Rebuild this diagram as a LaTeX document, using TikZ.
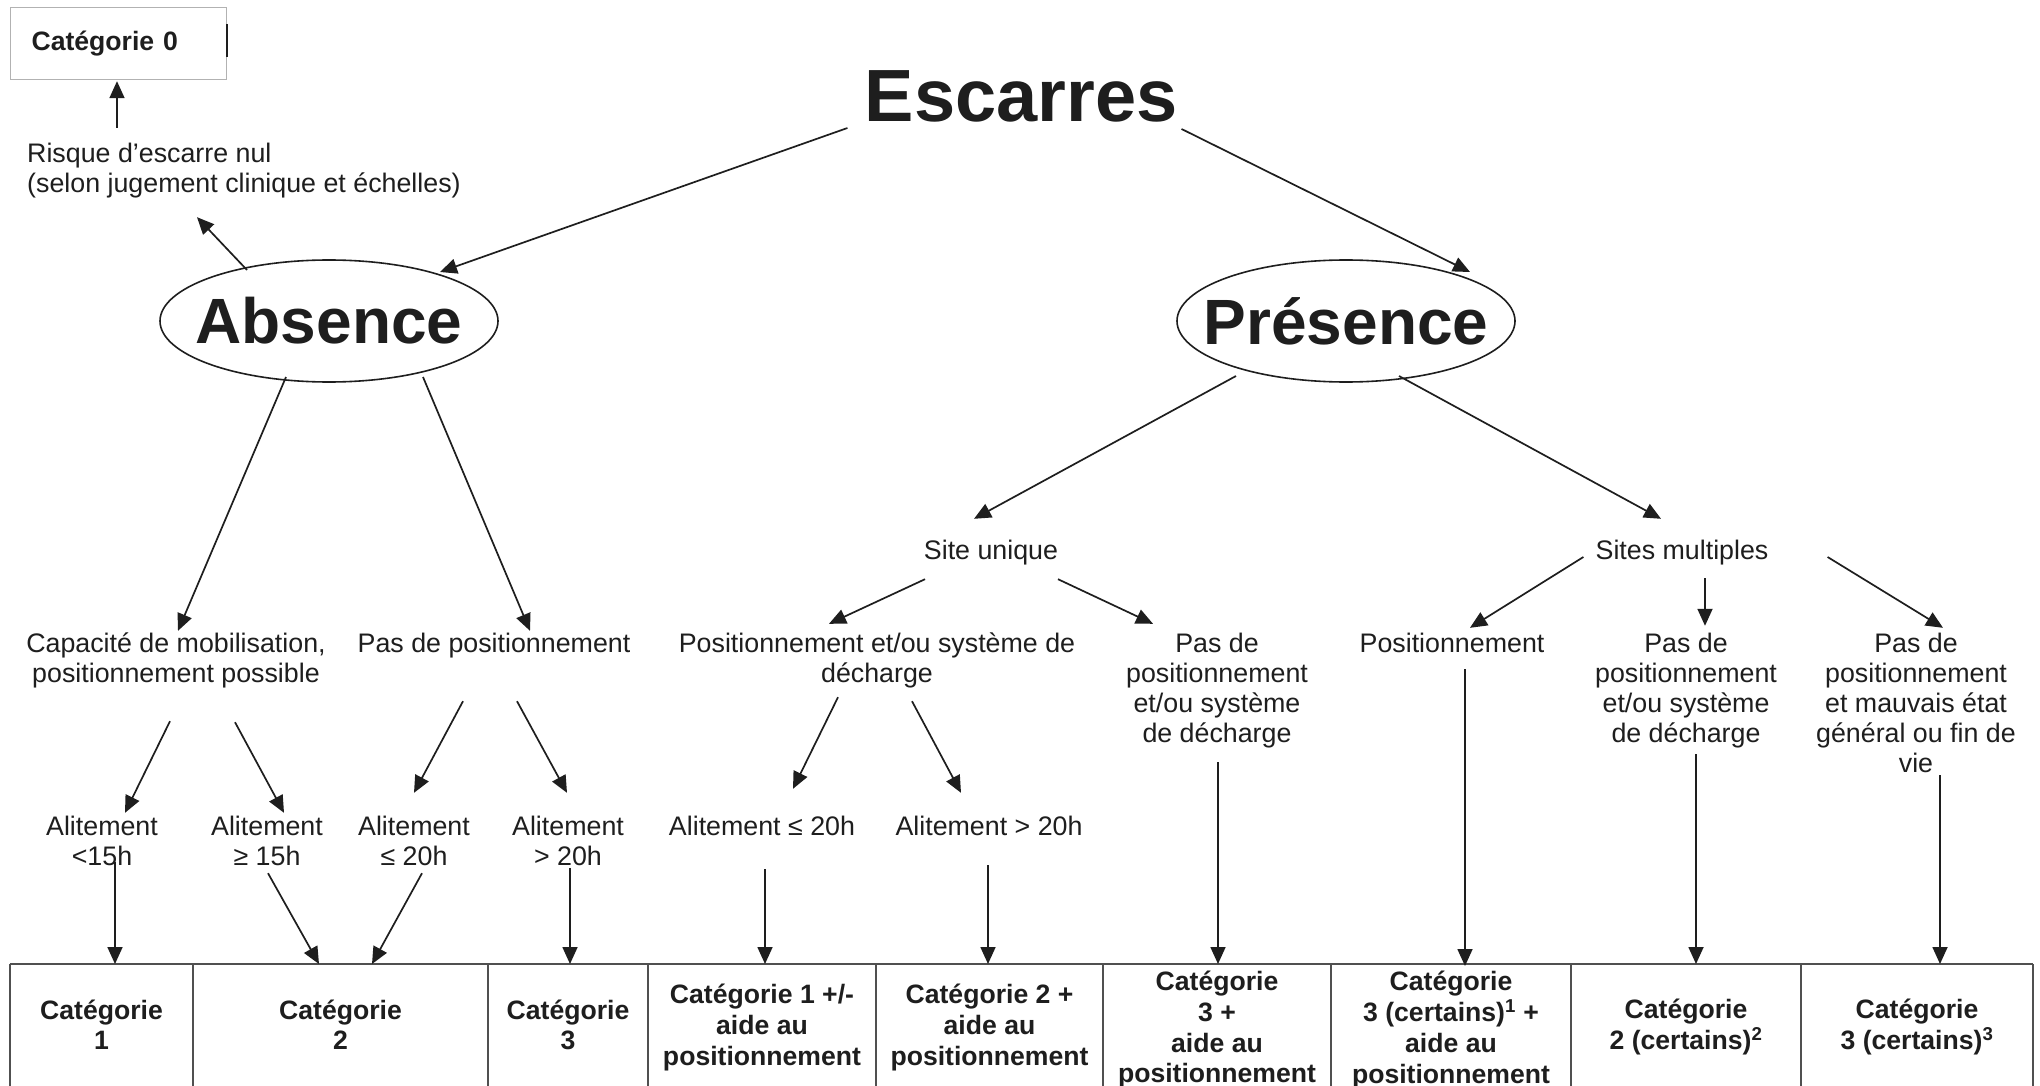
\documentclass[tikz,border=0pt]{standalone}
\usepackage{fontspec}
\setmainfont{Liberation Sans}
\usetikzlibrary{arrows.meta,shapes.geometric,calc}
\definecolor{ink}{HTML}{1E1E1E}
\definecolor{rulec}{HTML}{505050}
\newcommand{\mlc}[1]{\begin{tabular}[t]{@{}c@{}}#1\end{tabular}}
\newcommand{\mll}[1]{\begin{tabular}[t]{@{}l@{}}#1\end{tabular}}
\newcommand{\cellc}[1]{\begin{tabular}{@{}c@{}}#1\end{tabular}}
\begin{document}
\begin{tikzpicture}[x=1pt,y=-1pt,
  txt/.style={font=\fontsize{26.8}{30}\selectfont, inner sep=0, anchor=base, text=ink},
  big/.style={font=\bfseries\fontsize{74}{80}\selectfont, inner sep=0, anchor=base, text=ink},
  oval/.style={ellipse, draw=ink, line width=1.6pt, minimum width=338, minimum height=122, inner xsep=-30pt, inner ysep=0pt, font=\bfseries\fontsize{64}{70}\selectfont, text=ink},
  arr/.style={draw=ink, line width=1.7pt, -{Triangle[length=17pt,width=15pt]}},
  cell/.style={anchor=north, minimum height=128, inner sep=0, font=\bfseries\fontsize{26.6}{30.7}\selectfont, text=ink},
  tbl/.style={draw=rulec, line width=1.6pt},
]
\useasboundingbox (0,0) rectangle (2040,1086);
\clip (0,0) rectangle (2040,1086);
\fill[white] (0,0) rectangle (2040,1086);

% top left box
\node[draw=gray!60, line width=1.2pt, minimum width=216, minimum height=72, anchor=north west,
      inner xsep=21, inner ysep=0, text width=174, align=left,
      font=\bfseries\fontsize{26.6}{30}\selectfont, text=ink] (cat0) at (10,7) {Catégorie 0};
\draw[line width=2.5pt, ink] ($(cat0.north east)+(0,17)$) -- ($(cat0.north east)+(0,50)$);
\node[txt, anchor=base west] (risque) at (27,163) {\mll{Risque d’escarre nul\\(selon jugement clinique et échelles)}};

% title and ellipses
\node[big] (esc) at (1021,122) {Escarres};
\node[oval] (absn) at (329,321) {Absence};
\node[oval] (pres) at (1346,321) {Présence};

% level 2
\node[txt] (capa) at (176,652) {\mlc{Capacité de mobilisation,\\positionnement possible}};
\node[txt] (pdp) at (494,652) {\mlc{Pas de positionnement}};
\node[txt] (su) at (991,559) {\mlc{Site unique}};
\node[txt] (sm) at (1682,559) {\mlc{Sites multiples}};
\node[txt] (ped) at (877,652) {\mlc{Positionnement et/ou système de\\décharge}};
\node[txt] (pdsu) at (1217,652) {\mlc{Pas de\\positionnement\\et/ou système\\de décharge}};
\node[txt] (pos) at (1452,652) {\mlc{Positionnement}};
\node[txt] (pdsm) at (1686,652) {\mlc{Pas de\\positionnement\\et/ou système\\de décharge}};
\node[txt] (pmv) at (1916,652) {\mlc{Pas de\\positionnement\\et mauvais état\\général ou fin de\\vie}};

% alitement
\node[txt] (al1) at (102,835) {\mlc{Alitement\\<15h}};
\node[txt] (al2) at (267,835) {\mlc{Alitement\\≥ 15h}};
\node[txt] (al3) at (414,835) {\mlc{Alitement\\≤ 20h}};
\node[txt] (al4) at (568,835) {\mlc{Alitement\\> 20h}};
\node[txt] (al5) at (762,835) {\mlc{Alitement ≤ 20h}};
\node[txt] (al6) at (989,835) {\mlc{Alitement > 20h}};

% table cells
\node[cell, minimum width=183] (c1) at (101.5,964) {\cellc{Catégorie\\1}};
\node[cell, minimum width=295] (c2) at (340.5,964) {\cellc{Catégorie\\2}};
\node[cell, minimum width=160] (c3) at (568,964) {\cellc{Catégorie\\3}};
\node[cell, minimum width=228] (c4) at (762,964) {\cellc{Catégorie 1 +/-\\aide au\\positionnement}};
\node[cell, minimum width=227] (c5) at (989.5,964) {\cellc{Catégorie 2 +\\aide au\\positionnement}};
\node[cell, minimum width=228, minimum height=133] (c6) at (1217,964) {\cellc{Catégorie\\3 +\\aide au\\positionnement}};
\node[cell, minimum width=240, minimum height=133] (c7) at (1451,964) {\cellc{Catégorie\\3 (certains)\textsuperscript{1} +\\aide au\\positionnement}};
\node[cell, minimum width=230] (c8) at (1686,964) {\cellc{Catégorie\\2 (certains)\textsuperscript{2}}};
\node[cell, minimum width=232] (c9) at (1917,964) {\cellc{Catégorie\\3 (certains)\textsuperscript{3}}};

\draw[tbl] (c1.north west) -- (c9.north east);
\draw[tbl] (c1.north west) -- ++(0,140);
\foreach \c in {c1,c2,c3,c4,c5,c6,c7,c8,c9}{\draw[tbl] (\c.north east) -- ++(0,140);}

% connectors
\draw[arr] ($(risque.north west)+(90,-14)$) -- ($(cat0.south west)+(107,1)$);
\draw[arr] ($(absn.center)+(-82,-51)$) -- ($(risque.south west)+(170,15)$);
\draw[arr] ($(esc.base west)+(-17,6)$) -- ($(absn.center)+(111,-49)$);
\draw[arr] ($(esc.base east)+(4,7)$) -- ($(pres.center)+(124,-49)$);

\draw[arr] ($(absn.center)+(-43,56)$) -- ($(capa.north)+(2,0)$);
\draw[arr] ($(absn.center)+(94,56)$) -- ($(pdp.north)+(36,0)$);
\draw[arr] ($(pres.center)+(-110,55)$) -- ($(su.north)+(-17,-19)$);
\draw[arr] ($(pres.center)+(53,55)$) -- ($(sm.north)+(-21,-19)$);

\draw[arr] ($(su.south)+(-66,11)$) -- ($(ped.north)+(-48,-7)$);
\draw[arr] ($(su.south)+(67,11)$) -- ($(pdsu.north)+(-64,-7)$);
\draw[arr] ($(sm.base west)+(-12,-2)$) -- ($(pos.north)+(18,-3)$);
\draw[arr] ($(sm.south)+(23,10)$) -- ($(pdsm.north)+(19,-5)$);
\draw[arr] ($(sm.base east)+(59,-2)$) -- ($(pmv.north)+(27,-3)$);

\draw[arr] ($(capa.south)+(-6,30)$) -- ($(al1.north)+(23,-1)$);
\draw[arr] ($(capa.south)+(59,31)$) -- ($(al2.north)+(17,-1)$);
\draw[arr] ($(pdp.south)+(-31,40)$) -- ($(al3.north)+(0,-21)$);
\draw[arr] ($(pdp.south)+(23,40)$) -- ($(al4.north)+(-1,-21)$);
\draw[arr] ($(ped.south)+(-39,6)$) -- ($(al5.north)+(31,-25)$);
\draw[arr] ($(ped.south)+(35,10)$) -- ($(al6.north)+(-28,-21)$);

\draw[arr] ($(al1.south)+(13,-12)$) -- ($(c1.north)+(13.5,0)$);
\draw[arr] ($(al2.south)+(1,-1)$) -- ($(c2.north)+(-21.5,0)$);
\draw[arr] ($(al3.south)+(8,-1)$) -- ($(c2.north)+(31.5,0)$);
\draw[arr] ($(al4.south)+(2,-6)$) -- ($(c3.north)+(2,0)$);
\draw[arr] ($(al5.south)+(3,25)$) -- ($(c4.north)+(3,0)$);
\draw[arr] ($(al6.south)+(-1,21)$) -- ($(c5.north)+(-1.5,0)$);
\draw[arr] ($(pdsu.south)+(1,11)$) -- ($(c6.north)+(1,0)$);
\draw[arr] ($(pos.south)+(13,8)$) -- ($(c7.north)+(14,2)$);
\draw[arr] ($(pdsm.south)+(10,3)$) -- ($(c8.north)+(10,0)$);
\draw[arr] ($(pmv.south)+(24,-6)$) -- ($(c9.north)+(23,0)$);
\end{tikzpicture}
\end{document}
